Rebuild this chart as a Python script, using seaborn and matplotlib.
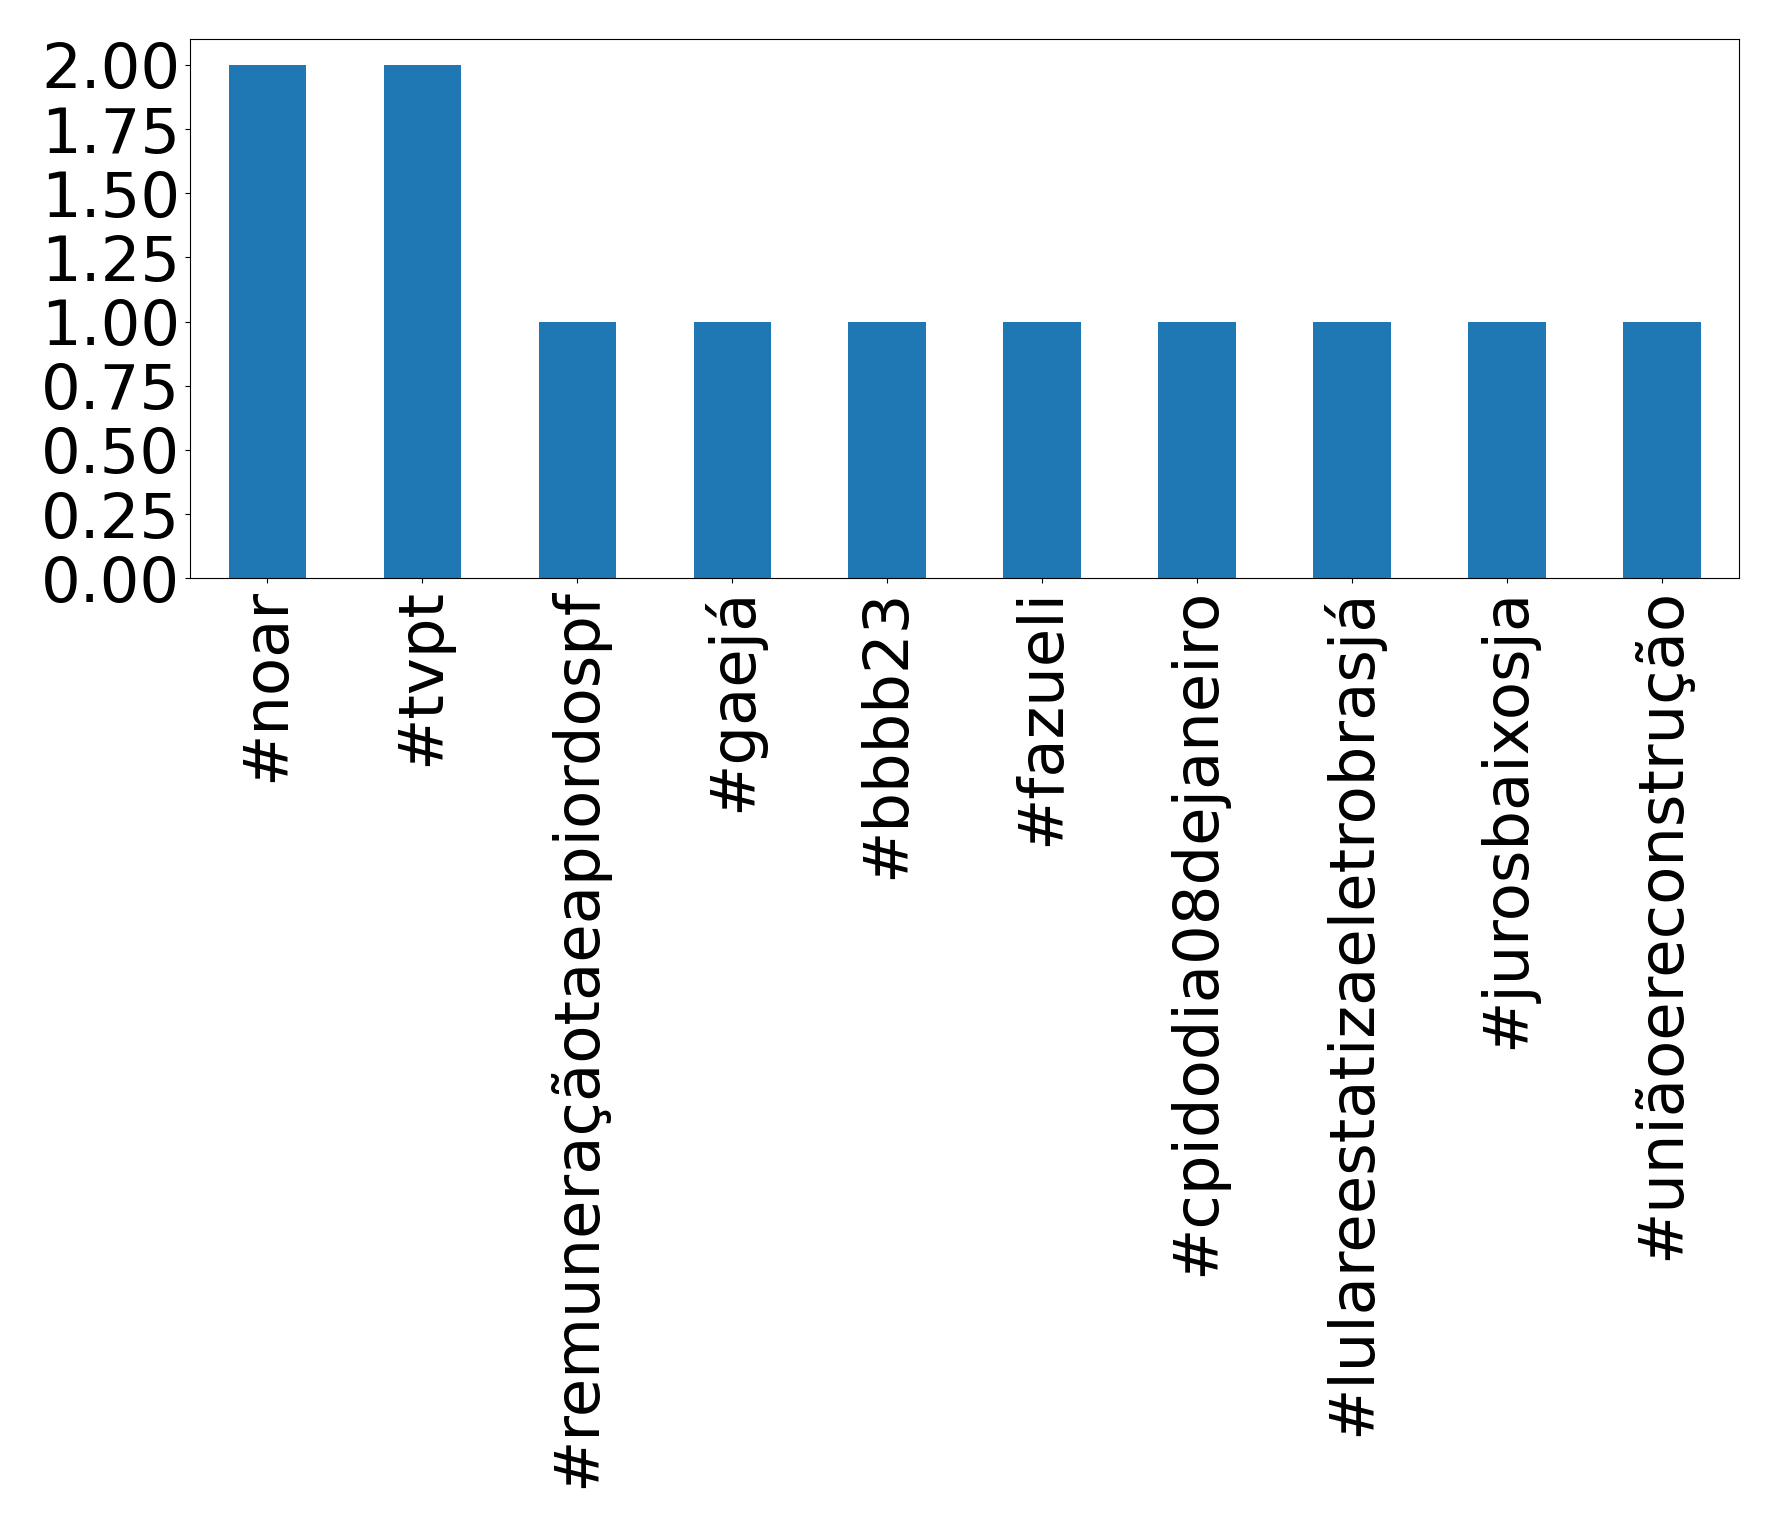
import matplotlib
matplotlib.use("Agg")
import matplotlib.pyplot as plt
import seaborn as sns
import pandas as pd

hashtags = ["#noar", "#tvpt", "#remuneraçãotaeapiordospf", "#gaejá", "#bbbb23",
            "#fazueli", "#cpidodia08dejaneiro", "#lulareestatizaeletrobrasjá",
            "#jurosbaixosja", "#uniãoereconstrução"]
counts = [2, 2, 1, 1, 1, 1, 1, 1, 1, 1]
yticks = [0.0, 0.25, 0.5, 0.75, 1.0, 1.25, 1.5, 1.75, 2.0]

df = pd.DataFrame({"hashtag": hashtags, "count": counts})

fig = plt.figure(figsize=(17.78, 15.28), dpi=100)
ax = fig.add_axes([190/1778, 1 - 578.3/1528, (1739.3-190)/1778, (578.3-39.3)/1528])
sns.barplot(data=df, x="hashtag", y="count", order=hashtags, color="#1f77b4",
            saturation=1, width=0.5, ax=ax)
ax.set_xlim(-0.5, len(hashtags) - 0.5)
ax.set_ylim(0, 2.1)
ax.set_yticks(yticks)
ax.set_yticklabels([f"{v:.2f}" for v in yticks])
ax.set_xlabel("")
ax.set_ylabel("")
ax.tick_params(axis="both", labelsize=45)
ax.tick_params(axis="x", labelrotation=90)
fig.savefig("out.png", dpi=100)
